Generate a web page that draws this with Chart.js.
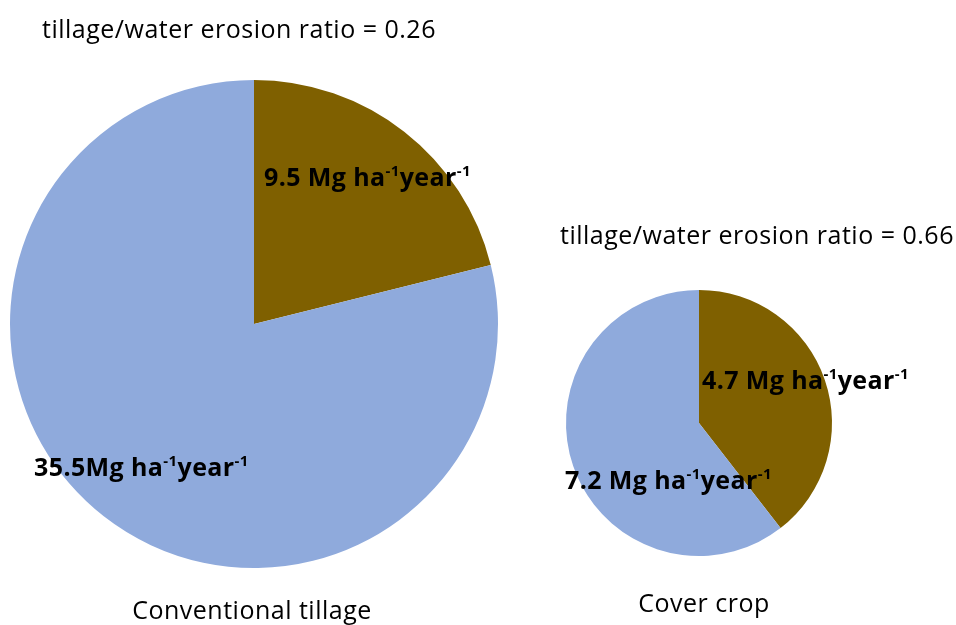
<!DOCTYPE html>
<html>
<head>
<meta charset="utf-8">
<script src="https://cdn.jsdelivr.net/npm/chart.js@4.4.1/dist/chart.umd.min.js"></script>
<style>
  html, body { margin: 0; padding: 0; background: #fff; }
  #wrap { position: relative; width: 956px; height: 625px; overflow: hidden; }
  #wrap canvas { position: absolute; left: 0; top: 0; }
</style>
</head>
<body>
<div id="wrap">
  <canvas id="convChart" width="956" height="625"></canvas>
  <canvas id="coverChart" width="956" height="625"></canvas>
</div>
<script>
// erosion components (Mg ha-1 year-1)
const categories = ['Tillage erosion', 'Water erosion'];
const conventional = [9.5, 35.5];
const coverCrop = [4.7, 7.2];
const systems = ['Conventional tillage', 'Cover crop'];
const ratios = ['0.26', '0.66'];
const sliceColors = ['#7f6000', '#8faadc'];

const FONT = '"Open Sans", Lato, sans-serif';

// draws "value Mg ha-1year-1" with raised exponents
function drawUnitLabel(ctx, value, x, y, spaced) {
    const parts = [
        { t: value + (spaced ? ' ' : '') + 'Mg ha' },
        { t: '-1', sup: true },
        { t: 'year' },
        { t: '-1', sup: true }
    ];
    ctx.save();
    ctx.fillStyle = '#000';
    ctx.textAlign = 'left';
    ctx.textBaseline = 'alphabetic';
    ctx.letterSpacing = '0.4px';
    let cx = x;
    parts.forEach(p => {
        ctx.font = p.sup ? 'bold 15px ' + FONT : 'bold 25px ' + FONT;
        ctx.fillText(p.t, cx, p.sup ? y - 10 : y);
        cx += ctx.measureText(p.t).width;
    });
    ctx.restore();
}

function drawPlain(ctx, text, x, y, align) {
    ctx.save();
    ctx.fillStyle = '#000';
    ctx.font = '25px ' + FONT;
    ctx.letterSpacing = '0.5px';
    ctx.textAlign = align || 'left';
    ctx.textBaseline = 'alphabetic';
    ctx.fillText(text, x, y);
    ctx.restore();
}

const convText = {
    id: 'convText',
    afterDraw(chart) {
        const ctx = chart.ctx;
        const arc = chart.getDatasetMeta(0).data[0];
        drawPlain(ctx, 'tillage/water erosion ratio = ' + ratios[0], 42, 38);
        drawUnitLabel(ctx, conventional[0].toFixed(1), arc.x + 10, arc.y - 138, true);
        drawUnitLabel(ctx, conventional[1].toFixed(1), arc.x - 220, arc.y + 152, false);
        drawPlain(ctx, systems[0], arc.x - 2, 619, 'center');
    }
};

const coverText = {
    id: 'coverText',
    afterDraw(chart) {
        const ctx = chart.ctx;
        const arc = chart.getDatasetMeta(0).data[0];
        drawPlain(ctx, 'tillage/water erosion ratio = ' + ratios[1], 560, 244);
        drawUnitLabel(ctx, coverCrop[0].toFixed(1), arc.x + 3, arc.y - 34, true);
        drawUnitLabel(ctx, coverCrop[1].toFixed(1), arc.x - 134, arc.y + 66, true);
        drawPlain(ctx, systems[1], arc.x + 5, 612, 'center');
    }
};

function pieOptions(padding) {
    return {
        responsive: false,
        animation: false,
        events: [],
        layout: { padding: padding },
        plugins: {
            legend: { display: false },
            tooltip: { enabled: false }
        },
        elements: {
            arc: { borderWidth: 0, hoverOffset: 0 }
        }
    };
}

new Chart(document.getElementById('convChart').getContext('2d'), {
    type: 'pie',
    data: {
        labels: categories,
        datasets: [{ data: conventional, backgroundColor: sliceColors }]
    },
    options: pieOptions({ left: 10, right: 458, top: 80, bottom: 57 }),
    plugins: [convText]
});

new Chart(document.getElementById('coverChart').getContext('2d'), {
    type: 'pie',
    data: {
        labels: categories,
        datasets: [{ data: coverCrop, backgroundColor: sliceColors }]
    },
    options: pieOptions({ left: 566, right: 124, top: 290, bottom: 69 }),
    plugins: [coverText]
});
</script>
</body>
</html>
